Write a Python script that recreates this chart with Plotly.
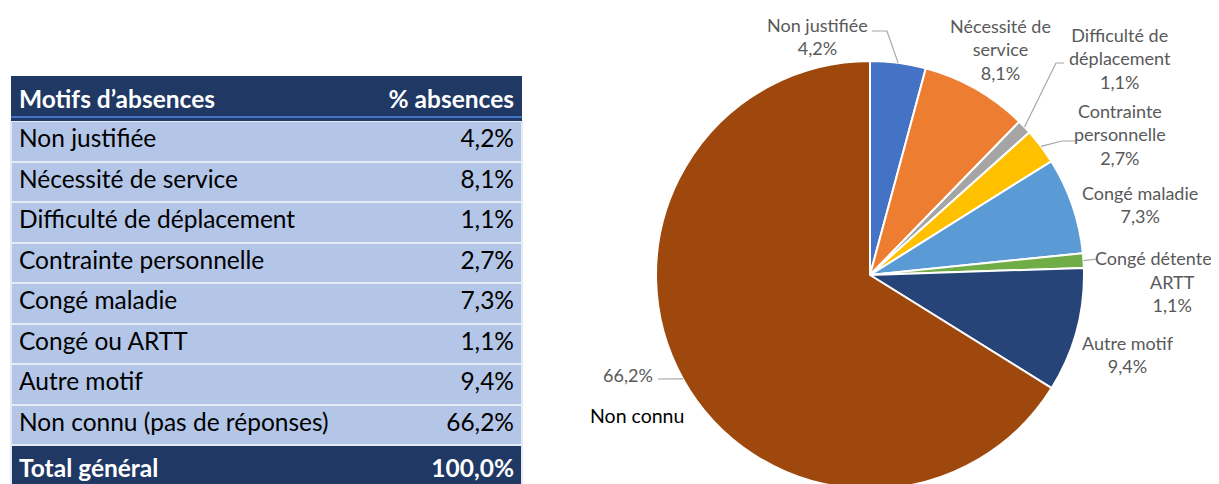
import math
import plotly.graph_objects as go

# ---------------- data ----------------
table_labels = ["Non justifiée", "Nécessité de service", "Difficulté de déplacement",
                "Contrainte personnelle", "Congé maladie", "Congé ou ARTT",
                "Autre motif", "Non connu (pas de réponses)"]
pie_labels = ["Non justifiée", "Nécessité de<br>service", "Difficulté de<br>déplacement",
              "Contrainte<br>personnelle", "Congé maladie", "Congé détente<br>ARTT",
              "Autre motif", "Non connu"]
pct_values = [4.2, 8.1, 1.1, 2.7, 7.3, 1.1, 9.4, 66.2]
total_label = "Total général"
total_value = 100.0
header_labels = ["Motifs d’absences", "% absences"]

colors = ["#4472C4", "#ED7D31", "#A5A5A5", "#FFC000", "#5B9BD5", "#70AD47", "#264478", "#9E480E"]


def fmt(v):
    return f"{v:.1f}".replace(".", ",") + "%"


# The page places the figure 8px from the top-left corner (body margin);
# all positions below are given in screenshot pixels and converted.
OFF = 8
W, H = 1219, 484
MT, MB = 53, 3
PH = H - MT - MB


def px(x):
    return (x - OFF) / W


def py(y):
    return (H - MB - (y - OFF)) / PH


# ---------------- table ----------------
navy = "#1F3864"
rowfill = "#B4C6E7"
sep = "#E4EAF6"
n = len(table_labels)
col1 = table_labels + [f"<b>{total_label}</b>"]
col2 = [fmt(v) for v in pct_values] + [f"<b>{fmt(total_value)}</b>"]
fills = [rowfill] * n + [navy]
fcols = ["black"] * n + ["white"]

tx = [px(11), px(522)]
TF = 24.5
hh, ch = 41, 40.5

table_a = go.Table(
    domain=dict(x=tx, y=[0, py(76)]),
    header=dict(values=[f"<b>{header_labels[0]}</b>"], fill_color=navy,
                line=dict(color=navy, width=0), align="left",
                font=dict(family="Lato", size=TF, color="white"), height=hh),
    cells=dict(values=[col1], fill_color=[fills], line=dict(color=sep, width=2),
               align="left", font=dict(family="Lato", size=TF, color=[fcols]), height=ch),
)
table_b = go.Table(
    domain=dict(x=tx, y=[0, py(76)]),
    header=dict(values=[f"<b>{header_labels[1]}</b>"], fill_color="rgba(0,0,0,0)",
                line=dict(width=0), align="right",
                font=dict(family="Lato", size=TF, color="white"), height=hh),
    cells=dict(values=[col2], fill_color="rgba(0,0,0,0)", line=dict(width=0),
               align="right", font=dict(family="Lato", size=TF, color=[fcols]), height=ch),
)
# thin blue rule under the header row
table_rule = go.Table(
    domain=dict(x=tx, y=[py(119), py(115.5)]),
    header=dict(values=[""], fill_color="#4472C4", line=dict(width=0), height=2.5,
                font=dict(size=1)),
    cells=dict(values=[[]], fill_color="rgba(0,0,0,0)", line=dict(width=0)),
)

# ---------------- pie ----------------
cx, cy, R = 870, 275, 214
pie = go.Pie(
    values=pct_values,
    labels=[l.replace("<br>", " ") for l in pie_labels],
    sort=False,
    direction="clockwise",
    rotation=0,
    marker=dict(colors=colors, line=dict(color="white", width=2)),
    textinfo="none",
    hoverinfo="label+percent",
    showlegend=False,
    domain=dict(x=[px(cx - R), px(cx + R)], y=[0, 1]),
)

fig = go.Figure([table_a, table_b, table_rule, pie])

# label placement (layout), text from data
label_pos = {
    0: (817, 37),
    1: (1000, 49),
    2: (1120, 58),
    3: (1120, 134),
    4: (1140, 204),
    6: (1128, 354),
}
gray = "#595959"
lfont = dict(family="Lato", size=18, color=gray)
annotations = []
for i, (x, y) in label_pos.items():
    annotations.append(dict(x=px(x), y=py(y), xref="paper", yref="paper",
                            text=f"{pie_labels[i]}<br>{fmt(pct_values[i])}",
                            showarrow=False, font=lfont, align="center",
                            xanchor="center", yanchor="middle"))
# Congé détente ARTT (reaches the right edge in the reference)
l5 = pie_labels[5].split("<br>")
annotations.append(dict(x=px(1214), y=py(258), xref="paper", yref="paper", text=l5[0],
                        showarrow=False, font=lfont, xanchor="right", yanchor="middle"))
annotations.append(dict(x=px(1172), y=py(293), xref="paper", yref="paper",
                        text=f"{l5[1]}<br>{fmt(pct_values[5])}",
                        showarrow=False, font=lfont, xanchor="center", yanchor="middle"))
# Non connu
annotations.append(dict(x=px(655), y=py(375), xref="paper", yref="paper", text=fmt(pct_values[7]),
                        showarrow=False, font=lfont, xanchor="right", yanchor="middle"))
annotations.append(dict(x=px(637), y=py(415), xref="paper", yref="paper", text=pie_labels[7],
                        showarrow=False, font=dict(family="Lato", size=19.5, color="black"),
                        xanchor="center", yanchor="middle"))

# leader lines: start on the slice edge at the mid-angle computed from values
total = sum(pct_values)
cum = 0
mids = []
for v in pct_values:
    mids.append((cum + v / 2) / total * 2 * math.pi)
    cum += v
leaders = {0: [(887, 31), (872, 31)],
           2: [(1056, 63), (1064, 63)],
           3: [(1062, 141), (1075, 141)],
           5: [(1097, 259)],
           7: [(658, 379)]}
shapes = []
for i, pts in leaders.items():
    a = mids[i]
    ex, ey = cx + R * math.sin(a), cy - R * math.cos(a)
    path_pts = [(ex, ey)] + pts
    path = "M " + " L ".join(f"{px(x)},{py(y)}" for x, y in path_pts)
    shapes.append(dict(type="path", path=path, xref="paper", yref="paper",
                       line=dict(color="#A6A6A6", width=1.2)))

fig.update_layout(
    width=W, height=H,
    margin=dict(l=0, r=0, t=MT, b=MB),
    paper_bgcolor="white", plot_bgcolor="white",
    annotations=annotations, shapes=shapes,
    font=dict(family="Lato"),
)
fig.write_html("out.html")
